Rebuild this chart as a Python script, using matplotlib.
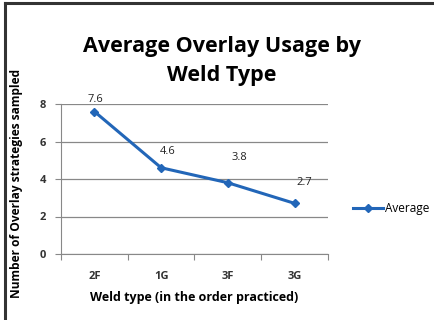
import matplotlib.pyplot as plt
from matplotlib.lines import Line2D

weld_types = ["2F", "1G", "3F", "3G"]
averages = [7.6, 4.6, 3.8, 2.7]
y_ticks = [0, 2, 4, 6, 8]

line_color = "#2266b8"
plt.rcParams["font.family"] = ["Open Sans", "DejaVu Sans"]

fig = plt.figure(figsize=(4.35, 3.20), dpi=100)
fig.patch.set_facecolor("white")

# outer frame (top and left edges only)
fig.add_artist(Line2D([5 / 435, 1.0], [1 - 3 / 320, 1 - 3 / 320], color="#333333", lw=2.2))
fig.add_artist(Line2D([5 / 435, 5 / 435], [0.0, 1 - 3 / 320], color="#333333", lw=2.2))

ax = fig.add_axes([61 / 435, 1 - 254 / 320, 267 / 435, 150 / 320])
x = list(range(len(weld_types)))
ax.plot(x, averages, color=line_color, lw=2.2, marker="D", markersize=4.5, label="Average")

# value labels sit slightly up and to the right of each point
label_offsets = [(1, 5), (5, 8), (8, 14), (7, 11)]
for xi, v, off in zip(x, averages, label_offsets):
    ax.annotate(f"{v:.1f}", (xi, v), xytext=off, textcoords="offset points",
                ha="center", va="bottom", fontsize=8, color="#222222")

ax.set_xlim(-0.5, len(weld_types) - 0.5)
ax.set_ylim(0, 8)
ax.set_yticks(y_ticks)
ax.set_xticks(x)
ax.set_xticklabels(weld_types, fontsize=8, fontweight="bold", color="#333333")
ax.tick_params(axis="y", labelsize=8, colors="#333333", length=4, width=0.8, color="#888888", pad=7)
ax.tick_params(axis="x", length=0, pad=12)
for t in ax.get_yticklabels():
    t.set_fontweight("bold")
# category boundary ticks on the x axis
ax.set_xticks([i - 0.5 for i in range(len(weld_types) + 1)], minor=True)
ax.tick_params(axis="x", which="minor", length=4, width=0.8, color="#888888")

ax.grid(axis="y", color="#888888", lw=0.9)
ax.set_axisbelow(True)
for s in ["top", "right"]:
    ax.spines[s].set_visible(False)
ax.spines["left"].set_color("#888888")
ax.spines["bottom"].set_color("#888888")

ax.set_xlabel("Weld type (in the order practiced)", fontsize=9, fontweight="bold", labelpad=7)
fig.text(17 / 435, 1 - 183 / 320, "Number of Overlay strategies sampled", rotation=90,
         ha="center", va="center", fontsize=8.6, fontweight="bold")

fig.text(222 / 435, 1 - 61 / 320, "Average Overlay Usage by\nWeld Type", ha="center", va="center",
         fontsize=15.5, fontweight="bold", linespacing=1.45)

ax.legend(loc="center left", bbox_to_anchor=(1.075, 0.3), frameon=False, fontsize=8.5,
          handlelength=2.6, handletextpad=0.1, borderaxespad=0)

fig.savefig("out.png", dpi=100)
